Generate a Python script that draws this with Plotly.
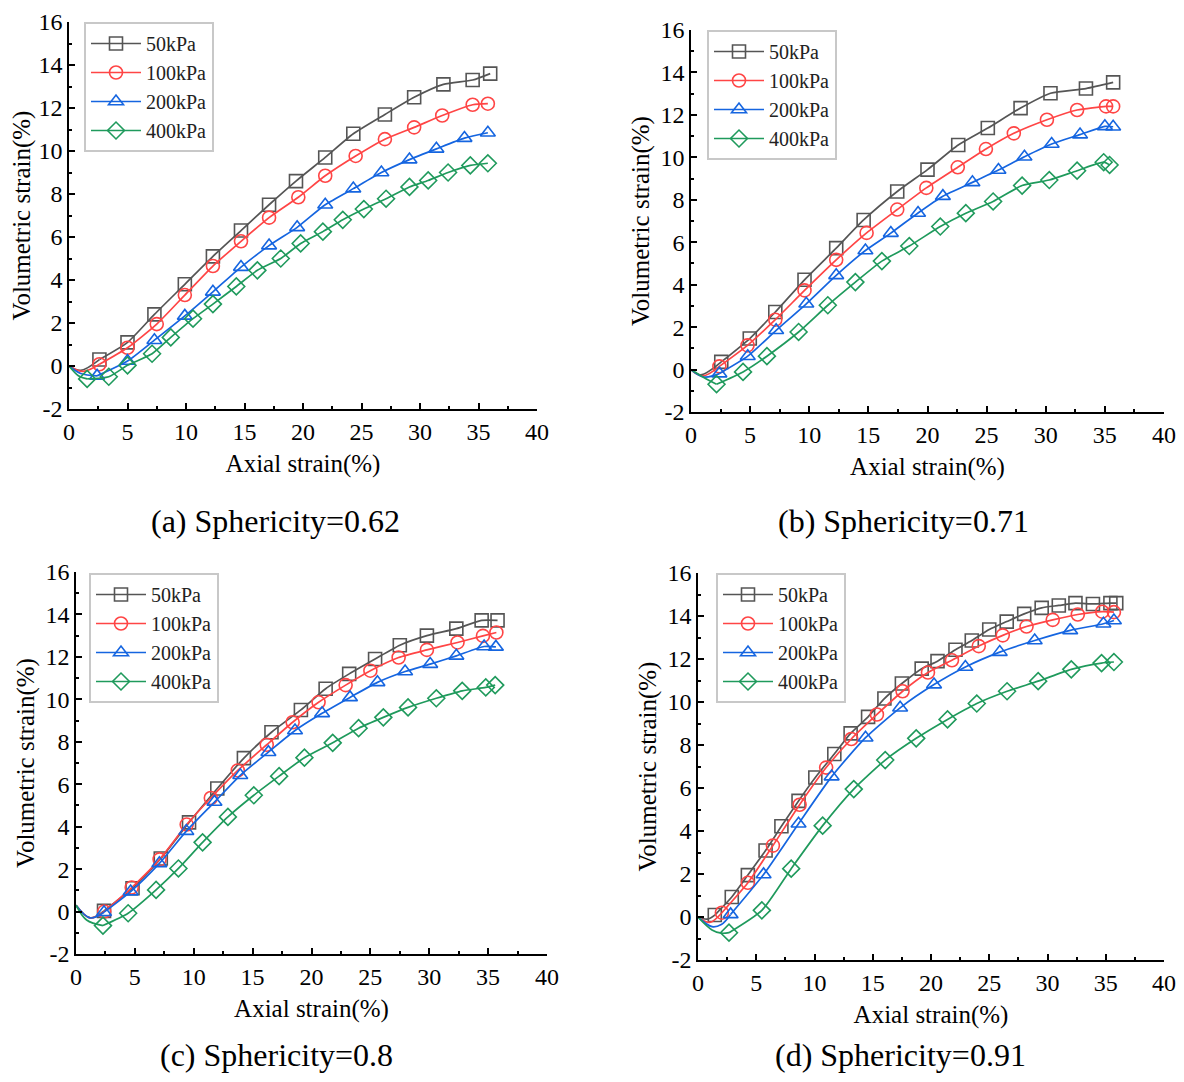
import plotly.graph_objects as go

# legend names, one per confining pressure
pressures = ["50kPa", "100kPa", "200kPa", "400kPa"]

# tick labels (hyphen minus as in the source figure)
x_ticks = [0, 5, 10, 15, 20, 25, 30, 35, 40]
y_ticks = [-2, 0, 2, 4, 6, 8, 10, 12, 14, 16]
x_ticktext = [str(v) for v in x_ticks]
y_ticktext = [str(v) for v in y_ticks]

# (a) Sphericity=0.62 : marker points, axial strain (%) vs volumetric strain (%)
a50_x = [2.6, 5.0, 7.3, 9.9, 12.3, 14.7, 17.1, 19.4, 21.9, 24.3, 27.0, 29.5, 32.0, 34.5, 36.0]
a50_y = [0.3, 1.1, 2.4, 3.8, 5.1, 6.3, 7.5, 8.6, 9.7, 10.8, 11.7, 12.5, 13.1, 13.3, 13.6]
a100_x = [2.6, 5.0, 7.5, 9.9, 12.3, 14.7, 17.1, 19.6, 21.9, 24.5, 27.0, 29.5, 31.9, 34.5, 35.8]
a100_y = [0.08, 0.85, 1.95, 3.3, 4.65, 5.8, 6.9, 7.85, 8.85, 9.77, 10.55, 11.1, 11.65, 12.15, 12.2]
a200_x = [2.4, 5.0, 7.3, 9.9, 12.3, 14.7, 17.1, 19.5, 21.9, 24.3, 26.7, 29.1, 31.4, 33.8, 35.8]
a200_y = [-0.46, 0.23, 1.2, 2.33, 3.45, 4.6, 5.6, 6.45, 7.5, 8.25, 9.0, 9.6, 10.1, 10.6, 10.85]
a400_x = [1.55, 3.4, 5.0, 7.1, 8.7, 10.6, 12.3, 14.3, 16.1, 18.1, 19.8, 21.7, 23.4, 25.2, 27.1,
          29.1, 30.7, 32.4, 34.3, 35.8]
a400_y = [-0.6, -0.5, 0.03, 0.57, 1.33, 2.2, 2.88, 3.7, 4.45, 5.0, 5.7, 6.25, 6.8, 7.3, 7.78,
          8.33, 8.63, 9.0, 9.33, 9.43]
# start of each curve before the first marker
a_lead_x = [[0, 1.0], [0, 1.2], [0, 1.0], [0, 0.8]]
a_lead_y = [[0, -0.2], [0, -0.25], [0, -0.35], [0, -0.45]]

# (b) Sphericity=0.71
b50_x = [2.56, 4.97, 7.13, 9.6, 12.28, 14.6, 17.44, 20.0, 22.6, 25.1, 27.87, 30.4, 33.4, 35.7]
b50_y = [0.36, 1.46, 2.71, 4.23, 5.72, 7.05, 8.39, 9.42, 10.58, 11.38, 12.32, 13.02, 13.24, 13.53]
b100_x = [2.4, 4.78, 7.13, 9.6, 12.28, 14.85, 17.44, 19.9, 22.56, 24.94, 27.3, 30.1, 32.65, 35.1, 35.7]
b100_y = [0.15, 1.14, 2.35, 3.73, 5.17, 6.44, 7.54, 8.56, 9.53, 10.39, 11.13, 11.77, 12.23, 12.4, 12.4]
b200_x = [2.4, 4.8, 7.2, 9.75, 12.28, 14.75, 16.9, 19.2, 21.3, 23.8, 26.0, 28.2, 30.5, 32.9, 35.0, 35.7]
b200_y = [-0.19, 0.63, 1.85, 3.1, 4.44, 5.61, 6.43, 7.38, 8.17, 8.82, 9.4, 10.03, 10.63, 11.07, 11.46, 11.44]
b400_x = [2.16, 4.4, 6.42, 9.1, 11.57, 13.9, 16.14, 18.46, 21.08, 23.24, 25.55, 28.0, 30.3, 32.65, 34.9, 35.4]
b400_y = [-0.69, -0.11, 0.63, 1.77, 3.03, 4.12, 5.11, 5.82, 6.74, 7.37, 7.92, 8.67, 8.93, 9.37, 9.77, 9.64]
b_lead_x = [[0, 0.8], [0, 1.0], [0, 1.1], [0, 1.3]]
b_lead_y = [[0, -0.25], [0, -0.3], [0, -0.35], [0, -0.45]]

# (c) Sphericity=0.8
c50_x = [2.38, 4.8, 7.2, 9.6, 12.0, 14.26, 16.6, 19.1, 21.2, 23.2, 25.4, 27.5, 29.8, 32.3, 34.45, 35.8]
c50_y = [0.03, 1.1, 2.5, 4.2, 5.8, 7.23, 8.45, 9.5, 10.5, 11.2, 11.9, 12.55, 13.0, 13.33, 13.72, 13.72]
c100_x = [2.4, 4.73, 7.1, 9.4, 11.45, 13.74, 16.2, 18.4, 20.6, 22.9, 25.0, 27.4, 29.8, 32.4, 34.56, 35.7]
c100_y = [0.0, 1.13, 2.46, 4.1, 5.35, 6.65, 7.86, 8.92, 9.86, 10.67, 11.35, 11.97, 12.33, 12.68, 12.99, 13.15]
c200_x = [2.38, 4.64, 7.08, 9.37, 11.76, 13.95, 16.34, 18.6, 20.9, 23.27, 25.6, 27.95, 30.08, 32.3, 34.66, 35.66]
c200_y = [-0.03, 0.94, 2.27, 3.79, 5.16, 6.42, 7.51, 8.53, 9.34, 10.09, 10.8, 11.31, 11.66, 12.05, 12.49, 12.47]
c400_x = [2.29, 4.43, 6.8, 8.7, 10.75, 12.9, 15.1, 17.25, 19.4, 21.8, 24.0, 26.1, 28.2, 30.6, 32.8, 34.8, 35.6]
c400_y = [-0.66, -0.08, 1.02, 2.03, 3.26, 4.46, 5.48, 6.38, 7.25, 7.95, 8.64, 9.15, 9.62, 10.05, 10.4, 10.56, 10.67]
c_lead_x = [[0, 1.2], [0, 1.2], [0, 1.2], [0, 0.9]]
c_lead_y = [[0.3, -0.3], [0.3, -0.3], [0.3, -0.3], [0.3, -0.4]]

# (d) Sphericity=0.91
d50_x = [1.44, 2.9, 4.28, 5.8, 7.16, 8.63, 10.07, 11.7, 13.1, 14.6, 16.0, 17.5, 19.2, 20.56, 22.1,
         23.5, 25.0, 26.5, 28.0, 29.5, 30.97, 32.4, 33.9, 35.4, 35.9]
d50_y = [0.09, 0.93, 1.95, 3.09, 4.22, 5.4, 6.49, 7.58, 8.54, 9.31, 10.16, 10.86, 11.55, 11.9, 12.43,
         12.86, 13.37, 13.74, 14.1, 14.38, 14.49, 14.6, 14.56, 14.6, 14.6]
d100_x = [2.05, 4.28, 6.43, 8.72, 11.0, 13.16, 15.36, 17.56, 19.74, 21.8, 24.1, 26.16, 28.2, 30.45, 32.6, 34.7, 35.7]
d100_y = [0.2, 1.59, 3.32, 5.22, 6.95, 8.28, 9.42, 10.5, 11.37, 11.94, 12.6, 13.1, 13.51, 13.82, 14.07, 14.2, 14.18]
d200_x = [2.8, 5.63, 8.63, 11.47, 14.38, 17.35, 20.26, 22.95, 25.9, 28.9, 31.95, 34.8, 35.7]
d200_y = [0.12, 1.98, 4.34, 6.53, 8.34, 9.73, 10.81, 11.63, 12.32, 12.86, 13.33, 13.64, 13.79]
d400_x = [2.66, 5.48, 8.0, 10.7, 13.37, 16.07, 18.73, 21.42, 23.93, 26.53, 29.2, 32.04, 34.64, 35.7]
d400_y = [-0.73, 0.31, 2.25, 4.25, 5.95, 7.3, 8.31, 9.19, 9.93, 10.5, 10.97, 11.52, 11.81, 11.86]
d_lead_x = [[0, 0.8], [0, 1.0], [0, 1.2, 2.0], [0, 1.2, 2.0]]
d_lead_y = [[0, -0.1], [0, -0.25], [0, -0.45, -0.35], [0, -0.6, -0.75]]

captions = ["(a) Sphericity=0.62", "(b) Sphericity=0.71", "(c) Sphericity=0.8", "(d) Sphericity=0.91"]

panels = [
    ([a50_x, a100_x, a200_x, a400_x], [a50_y, a100_y, a200_y, a400_y], a_lead_x, a_lead_y),
    ([b50_x, b100_x, b200_x, b400_x], [b50_y, b100_y, b200_y, b400_y], b_lead_x, b_lead_y),
    ([c50_x, c100_x, c200_x, c400_x], [c50_y, c100_y, c200_y, c400_y], c_lead_x, c_lead_y),
    ([d50_x, d100_x, d200_x, d400_x], [d50_y, d100_y, d200_y, d400_y], d_lead_x, d_lead_y),
]

colors = ["#555555", "#ff4545", "#1565e0", "#1f9a5c"]
symbols = ["square-open", "circle-open", "triangle-up-open", "diamond-open"]

# the page body adds an 8px margin on every side, so the figure is smaller than the window
OFF = 8
W, H = 1184 - 2 * OFF, 1082 - 2 * OFF
FONT = "Liberation Serif"


def px(x):
    return (x - OFF) / W


def py(y):
    return 1 - (y - OFF) / H


# plot boxes in window pixels: x0, x1, y_top, y_bottom
boxes = [(69, 537, 22, 409), (691, 1164, 30, 412), (76, 547, 572, 954), (698, 1164, 573, 960)]
legend_pos = [(84, 22), (707, 30), (89, 573), (716, 573)]
caption_pos = [(275, 521), (903, 521), (276, 1055), (900, 1055)]

fig = go.Figure()

for i, (xs, ys, lx, ly) in enumerate(panels):
    n = "" if i == 0 else str(i + 1)
    leg = "legend" if i == 0 else "legend" + str(i + 1)
    for k in range(4):
        fig.add_trace(go.Scatter(
            x=lx[k] + [xs[k][0]], y=ly[k] + [ys[k][0]], mode="lines",
            line=dict(color=colors[k], width=1.7, shape="spline", smoothing=1.0),
            showlegend=False, hoverinfo="skip", xaxis="x" + n, yaxis="y" + n))
        fig.add_trace(go.Scatter(
            x=xs[k], y=ys[k], mode="lines+markers", name=pressures[k],
            line=dict(color=colors[k], width=1.7, shape="spline", smoothing=0.6),
            marker=dict(symbol=symbols[k], size=13, color=colors[k], line=dict(width=1.6)),
            legend=leg, xaxis="x" + n, yaxis="y" + n))

axis_style = dict(showline=True, linecolor="black", linewidth=1.5, ticks="inside", ticklen=6,
                  tickwidth=1.5, tickcolor="black", showgrid=False, zeroline=False,
                  automargin=False, tickmode="array", ticklabeloverflow="allow",
                  tickfont=dict(family=FONT, size=24, color="black"))

layout = dict(width=W, height=H, margin=dict(l=0, r=0, t=0, b=0),
              plot_bgcolor="white", paper_bgcolor="white",
              font=dict(family=FONT, color="black"))

annotations = []
for i, (x0, x1, yt, yb) in enumerate(boxes):
    n = "" if i == 0 else str(i + 1)
    layout["xaxis" + n] = dict(axis_style, domain=[px(x0), px(x1)], range=[0, 40],
                               tickvals=x_ticks, ticktext=x_ticktext, anchor="y" + n,
                               minor=dict(ticks="inside", ticklen=3, tickwidth=1.5, dtick=2.5, tickcolor="black"),
                               title=dict(text="Axial strain(%)", font=dict(family=FONT, size=25), standoff=11))
    layout["yaxis" + n] = dict(axis_style, domain=[py(yb), py(yt)], range=[-2, 16],
                               tickvals=y_ticks, ticktext=y_ticktext, anchor="x" + n,
                               minor=dict(ticks="inside", ticklen=3, tickwidth=1.5, dtick=1, tickcolor="black"),
                               title=dict(text="Volumetric strain(%)", font=dict(family=FONT, size=25), standoff=4))
    lx, ly = legend_pos[i]
    leg = "legend" if i == 0 else "legend" + str(i + 1)
    layout[leg] = dict(x=px(lx), y=py(ly), xanchor="left", yanchor="top",
                       bgcolor="white", bordercolor="#c8c8c8", borderwidth=2, itemwidth=50,
                       font=dict(family=FONT, size=20, color="#222222"), tracegroupgap=0)
    cx, cy = caption_pos[i]
    annotations.append(dict(text=captions[i], x=px(cx), y=py(cy), xref="paper", yref="paper",
                            showarrow=False, xanchor="center", yanchor="middle",
                            font=dict(family=FONT, size=32, color="black")))

layout["annotations"] = annotations
fig.update_layout(**layout)

fig.write_html("out.html")
